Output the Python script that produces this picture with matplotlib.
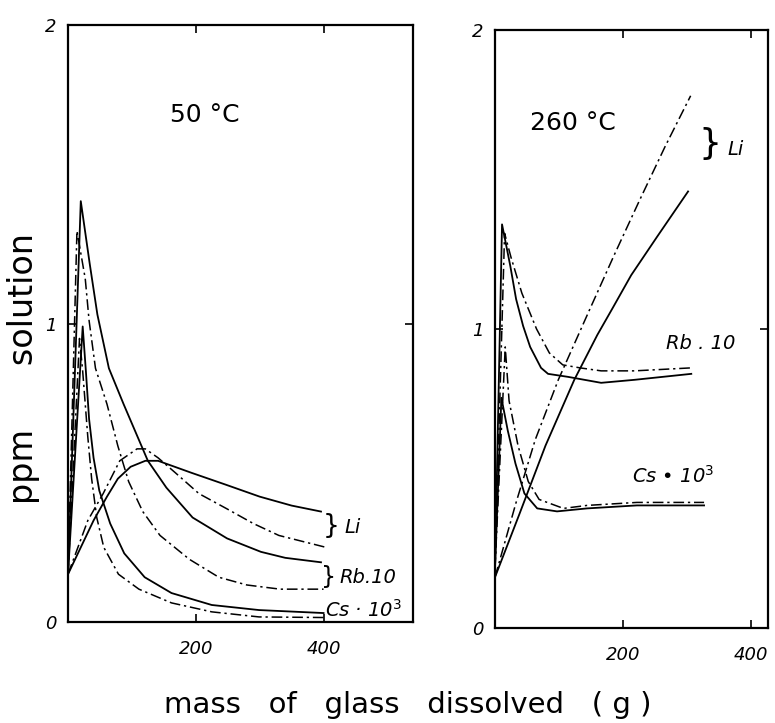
import matplotlib
matplotlib.use("Agg")
import matplotlib.pyplot as plt

# ---------------- data: 50 °C panel ----------------
li50_solid_x = [0, 20, 40, 61, 78, 98, 121, 141, 193, 247, 300, 350, 396]
li50_solid_y = [0.16, 0.25, 0.34, 0.42, 0.48, 0.52, 0.54, 0.54, 0.50, 0.46, 0.42, 0.39, 0.37]
li50_dash_x = [0, 31, 55, 81, 108, 121, 141, 168, 205, 248, 290, 330, 404]
li50_dash_y = [0.16, 0.34, 0.43, 0.54, 0.58, 0.58, 0.55, 0.50, 0.43, 0.38, 0.33, 0.29, 0.25]

rb50_solid_x = [0, 20, 34, 46, 64, 87, 109, 125, 154, 195, 249, 302, 340, 396]
rb50_solid_y = [0.16, 1.41, 1.20, 1.03, 0.85, 0.73, 0.62, 0.54, 0.45, 0.35, 0.28, 0.235,
                0.215, 0.20]
rb50_dash_x = [0, 14, 27, 33, 43, 61, 78, 95, 117, 144, 190, 236, 280, 332, 400]
rb50_dash_y = [0.16, 1.31, 1.15, 1.01, 0.85, 0.73, 0.59, 0.47, 0.37, 0.29, 0.21, 0.15,
               0.124, 0.11, 0.11]

cs50_solid_x = [0, 23, 28, 33, 40, 49, 66, 88, 120, 162, 225, 299, 400]
cs50_solid_y = [0.16, 0.99, 0.84, 0.68, 0.55, 0.44, 0.33, 0.23, 0.15, 0.097, 0.057, 0.04, 0.03]
cs50_dash_x = [0, 18, 23, 31, 37, 45, 56, 79, 111, 162, 225, 299, 400]
cs50_dash_y = [0.16, 0.95, 0.84, 0.62, 0.48, 0.35, 0.25, 0.16, 0.11, 0.064, 0.034, 0.017, 0.015]

# ---------------- data: 260 °C panel ----------------
li260_solid_x = [0, 38, 79, 124, 160, 184, 213, 254, 302]
li260_solid_y = [0.17, 0.38, 0.61, 0.83, 0.98, 1.07, 1.18, 1.31, 1.46]
li260_dash_x = [0, 33, 63, 99, 147, 187, 226, 266, 306]
li260_dash_y = [0.17, 0.42, 0.63, 0.83, 1.06, 1.25, 1.43, 1.61, 1.78]

rb260_solid_x = [0, 11, 24, 33, 44, 55, 72, 83, 114, 166, 218, 307]
rb260_solid_y = [0.20, 1.35, 1.21, 1.10, 1.01, 0.94, 0.87, 0.85, 0.84, 0.82, 0.83, 0.85]
rb260_dash_x = [0, 15, 25, 42, 65, 85, 106, 133, 166, 218, 307]
rb260_dash_y = [0.20, 1.32, 1.24, 1.12, 1.00, 0.92, 0.88, 0.87, 0.86, 0.86, 0.87]

cs260_solid_x = [0, 10, 20, 32, 46, 66, 97, 144, 222, 327]
cs260_solid_y = [0.20, 0.77, 0.66, 0.55, 0.45, 0.40, 0.39, 0.40, 0.41, 0.41]
cs260_dash_x = [0, 16, 22, 36, 52, 69, 107, 144, 222, 327]
cs260_dash_y = [0.20, 0.94, 0.76, 0.61, 0.49, 0.43, 0.40, 0.41, 0.42, 0.42]

x_ticks = [200, 400]
y_ticks = [0, 1, 2]
y_ticklabels = ["0", "1", "2"]

DASH = (0, (7, 2.5, 1.5, 2.5))

fig = plt.figure(figsize=(7.75, 7.23), dpi=100)
ax1 = fig.add_axes([68 / 775, 1 - 622 / 723, 345 / 775, 597 / 723])
ax2 = fig.add_axes([495 / 775, 1 - 628 / 723, 273 / 775, 598 / 723])


def style(ax, xmax):
    ax.set_xlim(0, xmax)
    ax.set_ylim(0, 2)
    for s in ax.spines.values():
        s.set_linewidth(1.6)
    ax.set_xticks(x_ticks)
    ax.set_xticklabels([str(t) for t in x_ticks], fontstyle="italic", fontsize=13)
    ax.set_yticks(y_ticks)
    ax.set_yticklabels(y_ticklabels, fontstyle="italic", fontsize=13)
    ax.tick_params(direction="in", length=6, width=1.2, top=True, right=True)
    ax.tick_params(axis="x", pad=13)
    ax.tick_params(axis="y", pad=8)


def draw(ax, x, y, dashed):
    if dashed:
        ax.plot(x, y, color="black", lw=1.1, linestyle=DASH)
    else:
        ax.plot(x, y, color="black", lw=1.3)


# left panel
style(ax1, 540)
draw(ax1, li50_solid_x, li50_solid_y, False)
draw(ax1, li50_dash_x, li50_dash_y, True)
draw(ax1, rb50_solid_x, rb50_solid_y, False)
draw(ax1, rb50_dash_x, rb50_dash_y, True)
draw(ax1, cs50_solid_x, cs50_solid_y, False)
draw(ax1, cs50_dash_x, cs50_dash_y, True)
ax1.text(214, 1.70, "50 °C", ha="center", va="center", fontsize=18)
ax1.text(412, 0.32, "}", ha="center", va="center", fontsize=19)
ax1.text(432, 0.315, "Li", ha="left", va="center", fontsize=14, fontstyle="italic")
ax1.text(408, 0.15, "}", ha="center", va="center", fontsize=17)
ax1.text(425, 0.15, "Rb.10", ha="left", va="center", fontsize=14, fontstyle="italic")
ax1.text(403, 0.04, "Cs · 10$^{3}$", ha="left", va="center", fontsize=14, fontstyle="italic")

# right panel
style(ax2, 427)
draw(ax2, li260_solid_x, li260_solid_y, False)
draw(ax2, li260_dash_x, li260_dash_y, True)
draw(ax2, rb260_solid_x, rb260_solid_y, False)
draw(ax2, rb260_dash_x, rb260_dash_y, True)
draw(ax2, cs260_solid_x, cs260_solid_y, False)
draw(ax2, cs260_dash_x, cs260_dash_y, True)
ax2.text(122, 1.69, "260 °C", ha="center", va="center", fontsize=18)
ax2.text(336, 1.62, "}", ha="center", va="center", fontsize=26)
ax2.text(363, 1.60, "Li", ha="left", va="center", fontsize=14, fontstyle="italic")
ax2.text(268, 0.95, "Rb . 10", ha="left", va="center", fontsize=14, fontstyle="italic")
ax2.text(214, 0.51, "Cs • 10$^{3}$", ha="left", va="center", fontsize=14, fontstyle="italic")

fig.text(0.030, 1 - 368 / 723, "ppm      solution", rotation=90, ha="center", va="center",
         fontsize=24)
fig.text(1 - (775 - 408) / 775, 1 - 705 / 723, "mass   of   glass   dissolved   ( g )",
         ha="center", va="center", fontsize=21)

fig.savefig("out.png", dpi=100)
